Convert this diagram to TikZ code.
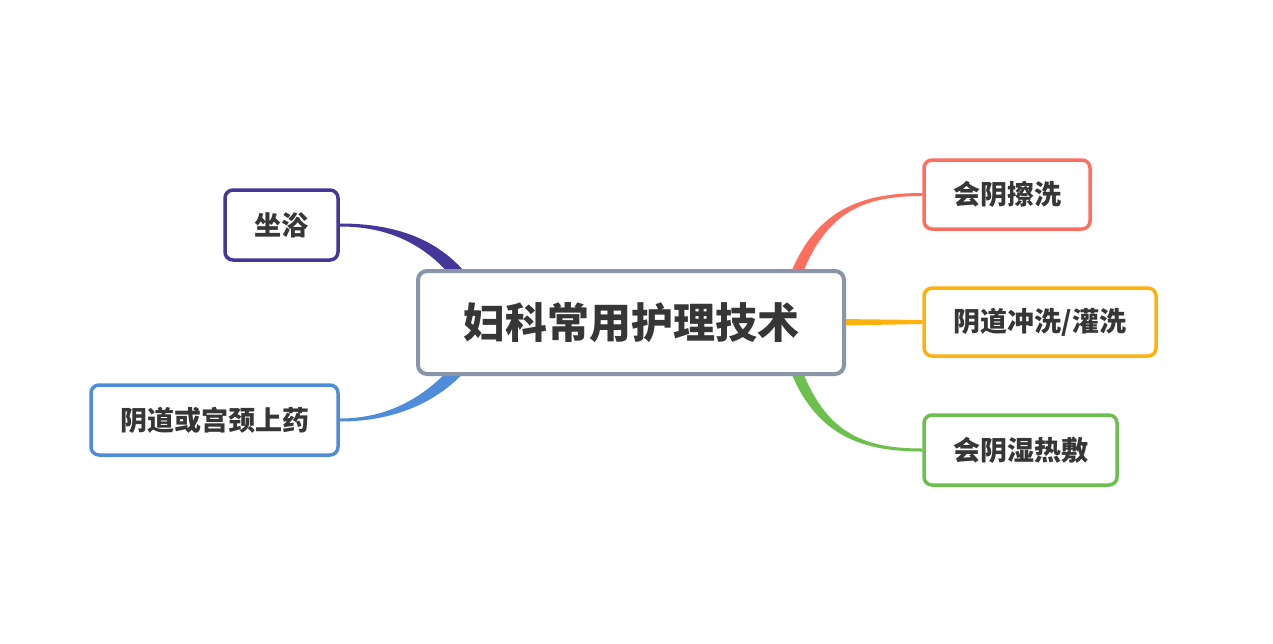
\documentclass[tikz,border=0pt]{standalone}
\usepackage{fontspec}
\newfontfamily\cjk{Noto Sans CJK SC}
\usetikzlibrary{calc,backgrounds}
\pgfdeclarelayer{paper}
\pgfsetlayers{paper,background,main}
\definecolor{ctext}{HTML}{363636}
\definecolor{cgray}{HTML}{8A95A8}
\definecolor{cred}{HTML}{FF6F5F}
\definecolor{corange}{HTML}{FFB20D}
\definecolor{cgreen}{HTML}{6CC04E}
\definecolor{cpurple}{HTML}{45379A}
\definecolor{cblue}{HTML}{4F8DDA}
\begin{document}
\begin{tikzpicture}[x=1pt,y=-1pt,
  rootbox/.style={draw=cgray,line width=4pt,rounded corners=9pt,fill=white,
    minimum width=426pt,minimum height=103pt,inner sep=0pt,
    font=\cjk\bfseries\fontsize{42}{48}\selectfont,text=ctext},
  leaf/.style={draw=#1,line width=3.5pt,rounded corners=8pt,fill=white,inner sep=0pt,
    font=\cjk\bfseries\fontsize{27}{32}\selectfont,text=ctext}]
\useasboundingbox (0,0) rectangle (1273,643);
\begin{pgfonlayer}{paper}
\fill[white] (0,0) rectangle (1273,643);
\end{pgfonlayer}
\node[rootbox] (c) at (631,322.5) {妇科常用护理技术};
\node[leaf=cred,minimum width=166pt,minimum height=69pt] (n1) at (1007,194.5) {会阴擦洗};
\node[leaf=corange,minimum width=232pt,minimum height=68pt] (n2) at (1040,322) {阴道冲洗/灌洗};
\node[leaf=cgreen,minimum width=193pt,minimum height=70pt] (n3) at (1020.5,450) {会阴湿热敷};
\node[leaf=cpurple,minimum width=113pt,minimum height=70pt] (n4) at (281.5,225) {坐浴};
\node[leaf=cblue,minimum width=247pt,minimum height=70pt] (n5) at (214.5,420) {阴道或宫颈上药};
\begin{pgfonlayer}{background}
\coordinate (r0) at (790,292);
\coordinate (g0) at (790,353);
\coordinate (p0) at (470,290);
\coordinate (b0) at (470,355);
% red
\fill[cred] ($(n1.west)+(0,-1.5)$) .. controls ($(n1.west)+(-64,-1.5)$) and ($(r0)+(19,-81)$) .. ($(r0)+(-6,0)$)
  -- ($(r0)+(6,0)$) .. controls ($(r0)+(31,-79)$) and ($(n1.west)+(-62,1.5)$) .. ($(n1.west)+(0,1.5)$) -- cycle;
% orange
\fill[corange] ($(c.east)+(-6,-3.5)$) -- ($(n2.west)+(0,-2)$) -- ($(n2.west)+(0,2)$) -- ($(c.east)+(-6,3)$) -- cycle;
% green
\fill[cgreen] ($(n3.west)+(0,1.5)$) .. controls ($(n3.west)+(-64,1.5)$) and ($(g0)+(19,81)$) .. ($(g0)+(-6,0)$)
  -- ($(g0)+(6,0)$) .. controls ($(g0)+(31,79)$) and ($(n3.west)+(-62,-1.5)$) .. ($(n3.west)+(0,-1.5)$) -- cycle;
% purple
\fill[cpurple] ($(n4.east)+(0,-1.5)$) .. controls ($(n4.east)+(59,-1.5)$) and ($(p0)+(-24,-49)$) .. ($(p0)+(6,-3)$)
  -- ($(p0)+(-6,3)$) .. controls ($(p0)+(-36,-41)$) and ($(n4.east)+(55,1.5)$) .. ($(n4.east)+(0,1.5)$) -- cycle;
% blue
\fill[cblue] ($(n5.east)+(0,1.5)$) .. controls ($(n5.east)+(59,1.5)$) and ($(b0)+(-24,44)$) .. ($(b0)+(6,3)$)
  -- ($(b0)+(-6,-3)$) .. controls ($(b0)+(-36,36)$) and ($(n5.east)+(55,-1.5)$) .. ($(n5.east)+(0,-1.5)$) -- cycle;
\end{pgfonlayer}
\end{tikzpicture}
\end{document}
